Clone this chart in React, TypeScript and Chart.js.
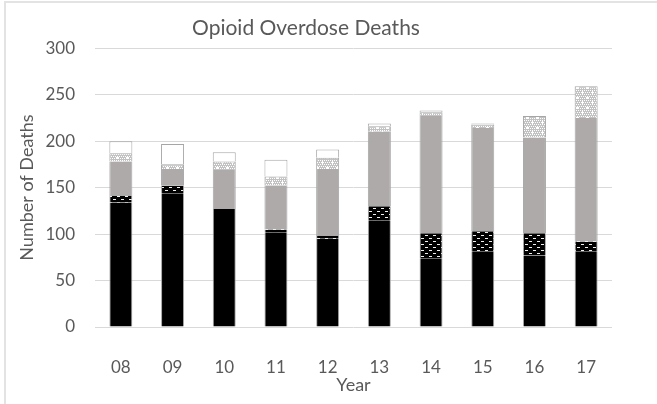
import { useEffect, useRef } from 'react';
import { Chart, registerables } from 'chart.js';

Chart.register(...registerables);

// Year labels on the category axis
const years = ['08', '09', '10', '11', '12', '13', '14', '15', '16', '17'];

// Stacked segments, bottom to top
const groupA = [134, 144, 127, 102, 95, 115, 74, 81, 77, 81];
const groupB = [7, 8, 0, 3, 3, 15, 27, 22, 24, 11];
const groupC = [37, 18, 42, 47, 72, 80, 126, 111, 103, 133];
const groupD = [9, 5, 9, 10, 12, 6, 4, 4, 23, 34];
const groupE = [13, 22, 10, 18, 9, 3, 2, 1, 0, 0];

const yTicks = [0, 50, 100, 150, 200, 250, 300];

const TEXT = '#595959';
const GRID = '#d9d9d9';
const EDGE = '#a6a6a6';
const FONT = 'Lato, "Open Sans", sans-serif';

// Black fill with staggered white dashes
function dashPattern(ctx: CanvasRenderingContext2D): CanvasPattern | string {
  const c = document.createElement('canvas');
  c.width = 8;
  c.height = 6;
  const g = c.getContext('2d');
  if (!g) return '#000';
  g.fillStyle = '#000000';
  g.fillRect(0, 0, 8, 6);
  g.fillStyle = '#f2f2f2';
  g.fillRect(1, 1, 3, 1);
  g.fillRect(5, 4, 3, 1);
  return ctx.createPattern(c, 'repeat') || '#000';
}

// Light grey stipple with small white crosses
function stipplePattern(ctx: CanvasRenderingContext2D): CanvasPattern | string {
  const c = document.createElement('canvas');
  c.width = 10;
  c.height = 10;
  const g = c.getContext('2d');
  if (!g) return '#d0d0d0';
  g.fillStyle = '#c2c2c2';
  g.fillRect(0, 0, 10, 10);
  g.fillStyle = '#ffffff';
  for (let y = 0; y < 10; y += 2) {
    for (let x = (y / 2) % 2; x < 10; x += 2) {
      g.fillRect(x, y, 1, 1);
    }
  }
  g.fillRect(2, 1, 1, 3);
  g.fillRect(1, 2, 3, 1);
  g.fillRect(7, 6, 1, 3);
  g.fillRect(6, 7, 3, 1);
  return ctx.createPattern(c, 'repeat') || '#d0d0d0';
}

export default function App() {
  const canvasRef = useRef<HTMLCanvasElement | null>(null);

  useEffect(() => {
    const canvas = canvasRef.current;
    if (!canvas) return;
    const ctx = canvas.getContext('2d');
    if (!ctx) return;

    const dashed = dashPattern(ctx);
    const stipple = stipplePattern(ctx);

    const sideEdges = { left: 1, right: 1, top: 0, bottom: 0 };
    const fullEdges = { left: 1, right: 1, top: 1, bottom: 0 };

    const chart = new Chart(ctx, {
      type: 'bar',
      data: {
        labels: years,
        datasets: [
          { label: 'Group A', data: groupA, backgroundColor: '#000000', borderColor: EDGE, borderWidth: sideEdges },
          { label: 'Group B', data: groupB, backgroundColor: dashed, borderColor: EDGE, borderWidth: sideEdges },
          { label: 'Group C', data: groupC, backgroundColor: '#aeaaaa', borderColor: EDGE, borderWidth: sideEdges },
          { label: 'Group D', data: groupD, backgroundColor: stipple, borderColor: EDGE, borderWidth: fullEdges },
          { label: 'Group E', data: groupE, backgroundColor: '#ffffff', borderColor: EDGE, borderWidth: fullEdges },
        ],
      },
      options: {
        responsive: false,
        animation: false,
        layout: { padding: { left: 0, right: 45, top: 0, bottom: 0 } },
        datasets: {
          bar: { categoryPercentage: 1, barPercentage: 0.445, borderSkipped: false },
        },
        plugins: {
          legend: { display: false },
          tooltip: { enabled: false },
          title: {
            display: true,
            text: 'Opioid Overdose Deaths',
            color: TEXT,
            font: { family: FONT, size: 21, weight: 'normal' },
            padding: { top: 16, bottom: 7 },
          },
        },
        scales: {
          x: {
            stacked: true,
            grid: { display: false },
            border: { display: false },
            ticks: { color: TEXT, font: { family: FONT, size: 17 }, padding: 22, maxRotation: 0 },
            title: {
              display: true,
              text: 'Year',
              color: TEXT,
              font: { family: FONT, size: 18 },
              padding: { top: 0, bottom: 8 },
            },
            afterFit: (scale: any) => {
              scale.height = 77;
            },
          },
          y: {
            stacked: true,
            min: 0,
            max: 300,
            afterBuildTicks: (scale: any) => {
              scale.ticks = yTicks.map((v) => ({ value: v }));
            },
            grid: { color: GRID, lineWidth: 1, drawTicks: false },
            border: { display: false },
            ticks: { color: TEXT, font: { family: FONT, size: 17 }, padding: 20 },
            title: {
              display: true,
              text: 'Number of Deaths',
              color: TEXT,
              font: { family: FONT, size: 18 },
              padding: { top: 16, bottom: 0 },
            },
            afterFit: (scale: any) => {
              scale.width = 95;
            },
          },
        },
      },
    } as any);

    return () => chart.destroy();
  }, []);

  return (
    <div
      style={{
        position: 'fixed',
        left: 0,
        top: 0,
        width: 657,
        height: 404,
        overflow: 'hidden',
        background: '#ffffff',
      }}
    >
      <div
        style={{
          position: 'absolute',
          left: 4,
          top: 1,
          width: 800,
          height: 600,
          borderTop: '2px solid #e3e3e3',
          borderLeft: '2px solid #e3e3e3',
        }}
      />
      <canvas
        ref={canvasRef}
        width={657}
        height={404}
        style={{ position: 'absolute', left: 0, top: 0, width: 657, height: 404 }}
      />
    </div>
  );
}
